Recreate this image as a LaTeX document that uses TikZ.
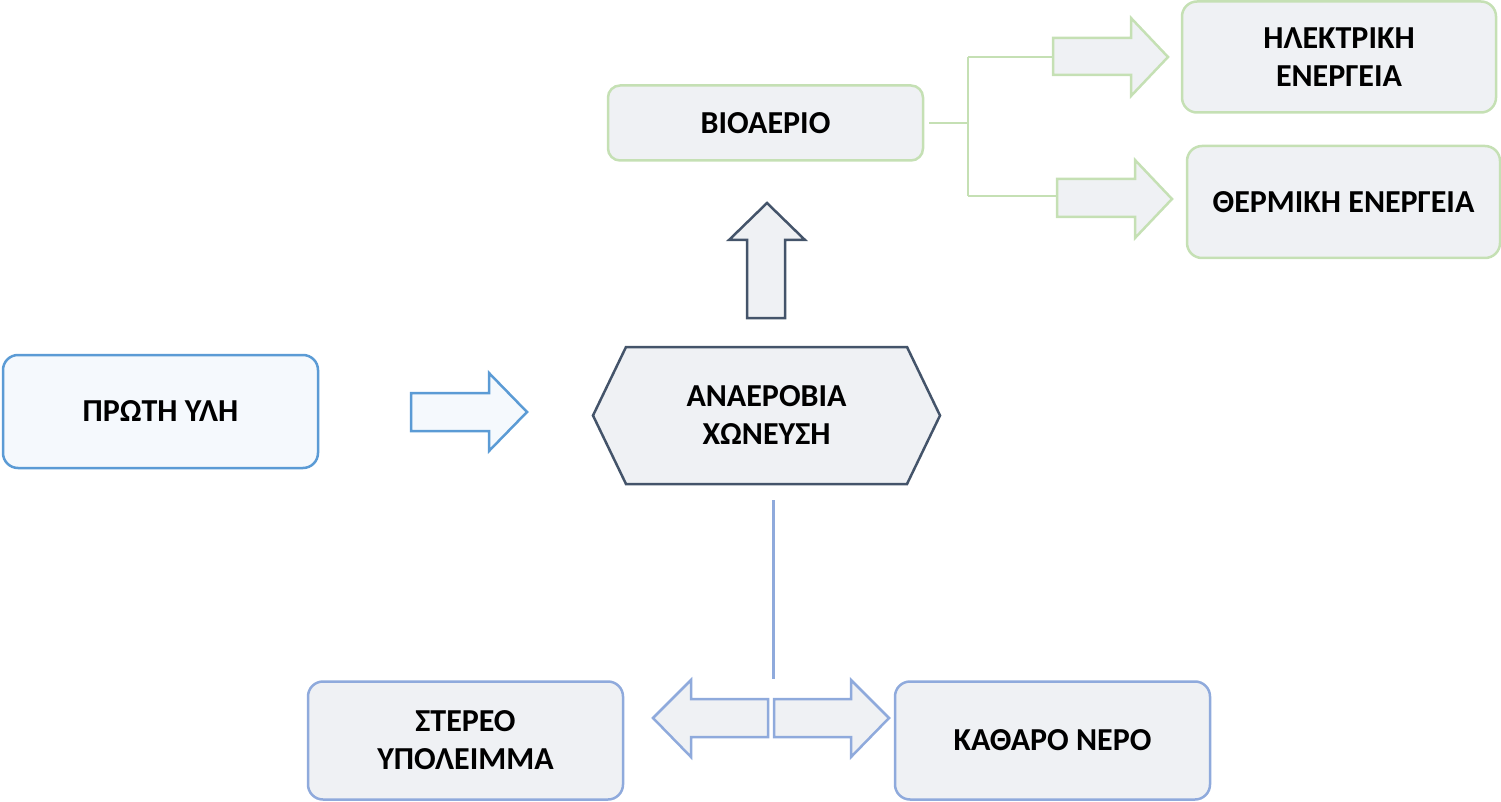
\documentclass[tikz,border=0pt]{standalone}
\usepackage{fontspec}
\setmainfont{Carlito}
\definecolor{boxfill}{HTML}{EFF1F4}
\definecolor{bluefill}{HTML}{F5F9FD}
\definecolor{mblue}{HTML}{5B9BD5}
\definecolor{lblue}{HTML}{8FAADC}
\definecolor{lgreen}{HTML}{C5E0B4}
\definecolor{slate}{HTML}{44546A}
\begin{document}
\begin{tikzpicture}[x=1pt,y=-1pt,
  every node/.style={font=\fontsize{32}{38}\selectfont\bfseries, align=center, text=black},
  rbox/.style={draw, line width=2.5pt, rounded corners=15pt, fill=boxfill, inner sep=0pt},
  greenbox/.style={rbox, draw=lgreen},
  bluebox/.style={rbox, draw=lblue},
  blockarrow/.style={line width=2.5pt, fill=boxfill, line join=miter},
]
\useasboundingbox (0,0) rectangle (1501,802);

% boxes
\node[rbox, draw=mblue, fill=bluefill, minimum width=315pt, minimum height=113pt] (prwth) at (160.5,411.5) {ΠΡΩΤΗ ΥΛΗ};
\node[greenbox, minimum width=315pt, minimum height=75pt, rounded corners=12pt] (bio) at (765.5,123) {ΒΙΟΑΕΡΙΟ};
\node[greenbox, minimum width=314pt, minimum height=111pt] (ilek) at (1339,57) {ΗΛΕΚΤΡΙΚΗ\\ΕΝΕΡΓΕΙΑ};
\node[greenbox, minimum width=313pt, minimum height=112pt] (therm) at (1343.5,202) {ΘΕΡΜΙΚΗ ΕΝΕΡΓΕΙΑ};
\node[bluebox, minimum width=315pt, minimum height=118pt] (stereo) at (465.5,740.5) {ΣΤΕΡΕΟ\\ΥΠΟΛΕΙΜΜΑ};
\node[bluebox, minimum width=315pt, minimum height=118pt] (nero) at (1052.5,740.5) {ΚΑΘΑΡΟ ΝΕΡΟ};

% hexagon
\draw[line width=2.5pt, draw=slate, fill=boxfill, line join=miter]
  (593,415.5) -- (626,347) -- (907,347) -- (940,415.5) -- (907,484) -- (626,484) -- cycle;
\node (anaer) at (766.5,415.5) {ΑΝΑΕΡΟΒΙΑ\\ΧΩΝΕΥΣΗ};

% blue input arrow
\draw[blockarrow, draw=mblue, fill=bluefill]
  (411,393) -- (489,393) -- (489,373) -- (527,412) -- (489,451) -- (489,431) -- (411,431) -- cycle;

% up arrow
\draw[blockarrow, draw=slate]
  (747,318) -- (747,240) -- (729,240) -- (767,203) -- (805,240) -- (785,240) -- (785,318) -- cycle;

% green connector tree
\coordinate (fork) at (968,123);
\coordinate (forktop) at (968,57);
\coordinate (forkbot) at (968,196);
\draw[lgreen, line width=2.5pt] ([xshift=5pt]bio.east) -- (fork);
\draw[lgreen, line width=2.5pt] (forktop) -- (forkbot);
\draw[lgreen, line width=2.5pt] (forktop) -- ++(85,0);
\draw[lgreen, line width=2.5pt] (forkbot) -- ++(89,0);

% green arrows
\draw[blockarrow, draw=lgreen]
  (1053,38) -- (1131,38) -- (1131,18) -- (1168,57) -- (1131,96) -- (1131,75) -- (1053,75) -- cycle;
\draw[blockarrow, draw=lgreen]
  (1057,179) -- (1135,179) -- (1135,160) -- (1172,199) -- (1135,238) -- (1135,217) -- (1057,217) -- cycle;

% lower connector
\coordinate (vtop) at (773.5,500);
\coordinate (vbot) at (773.5,679);
\draw[lblue, line width=2.5pt] (vtop) -- (vbot);
\draw[blockarrow, draw=lblue]
  (768,699) -- (691,699) -- (691,680) -- (653,718) -- (691,757) -- (691,737) -- (768,737) -- cycle;
\draw[blockarrow, draw=lblue]
  (774,699) -- (851,699) -- (851,680) -- (889,718) -- (851,757) -- (851,737) -- (774,737) -- cycle;
\end{tikzpicture}
\end{document}
